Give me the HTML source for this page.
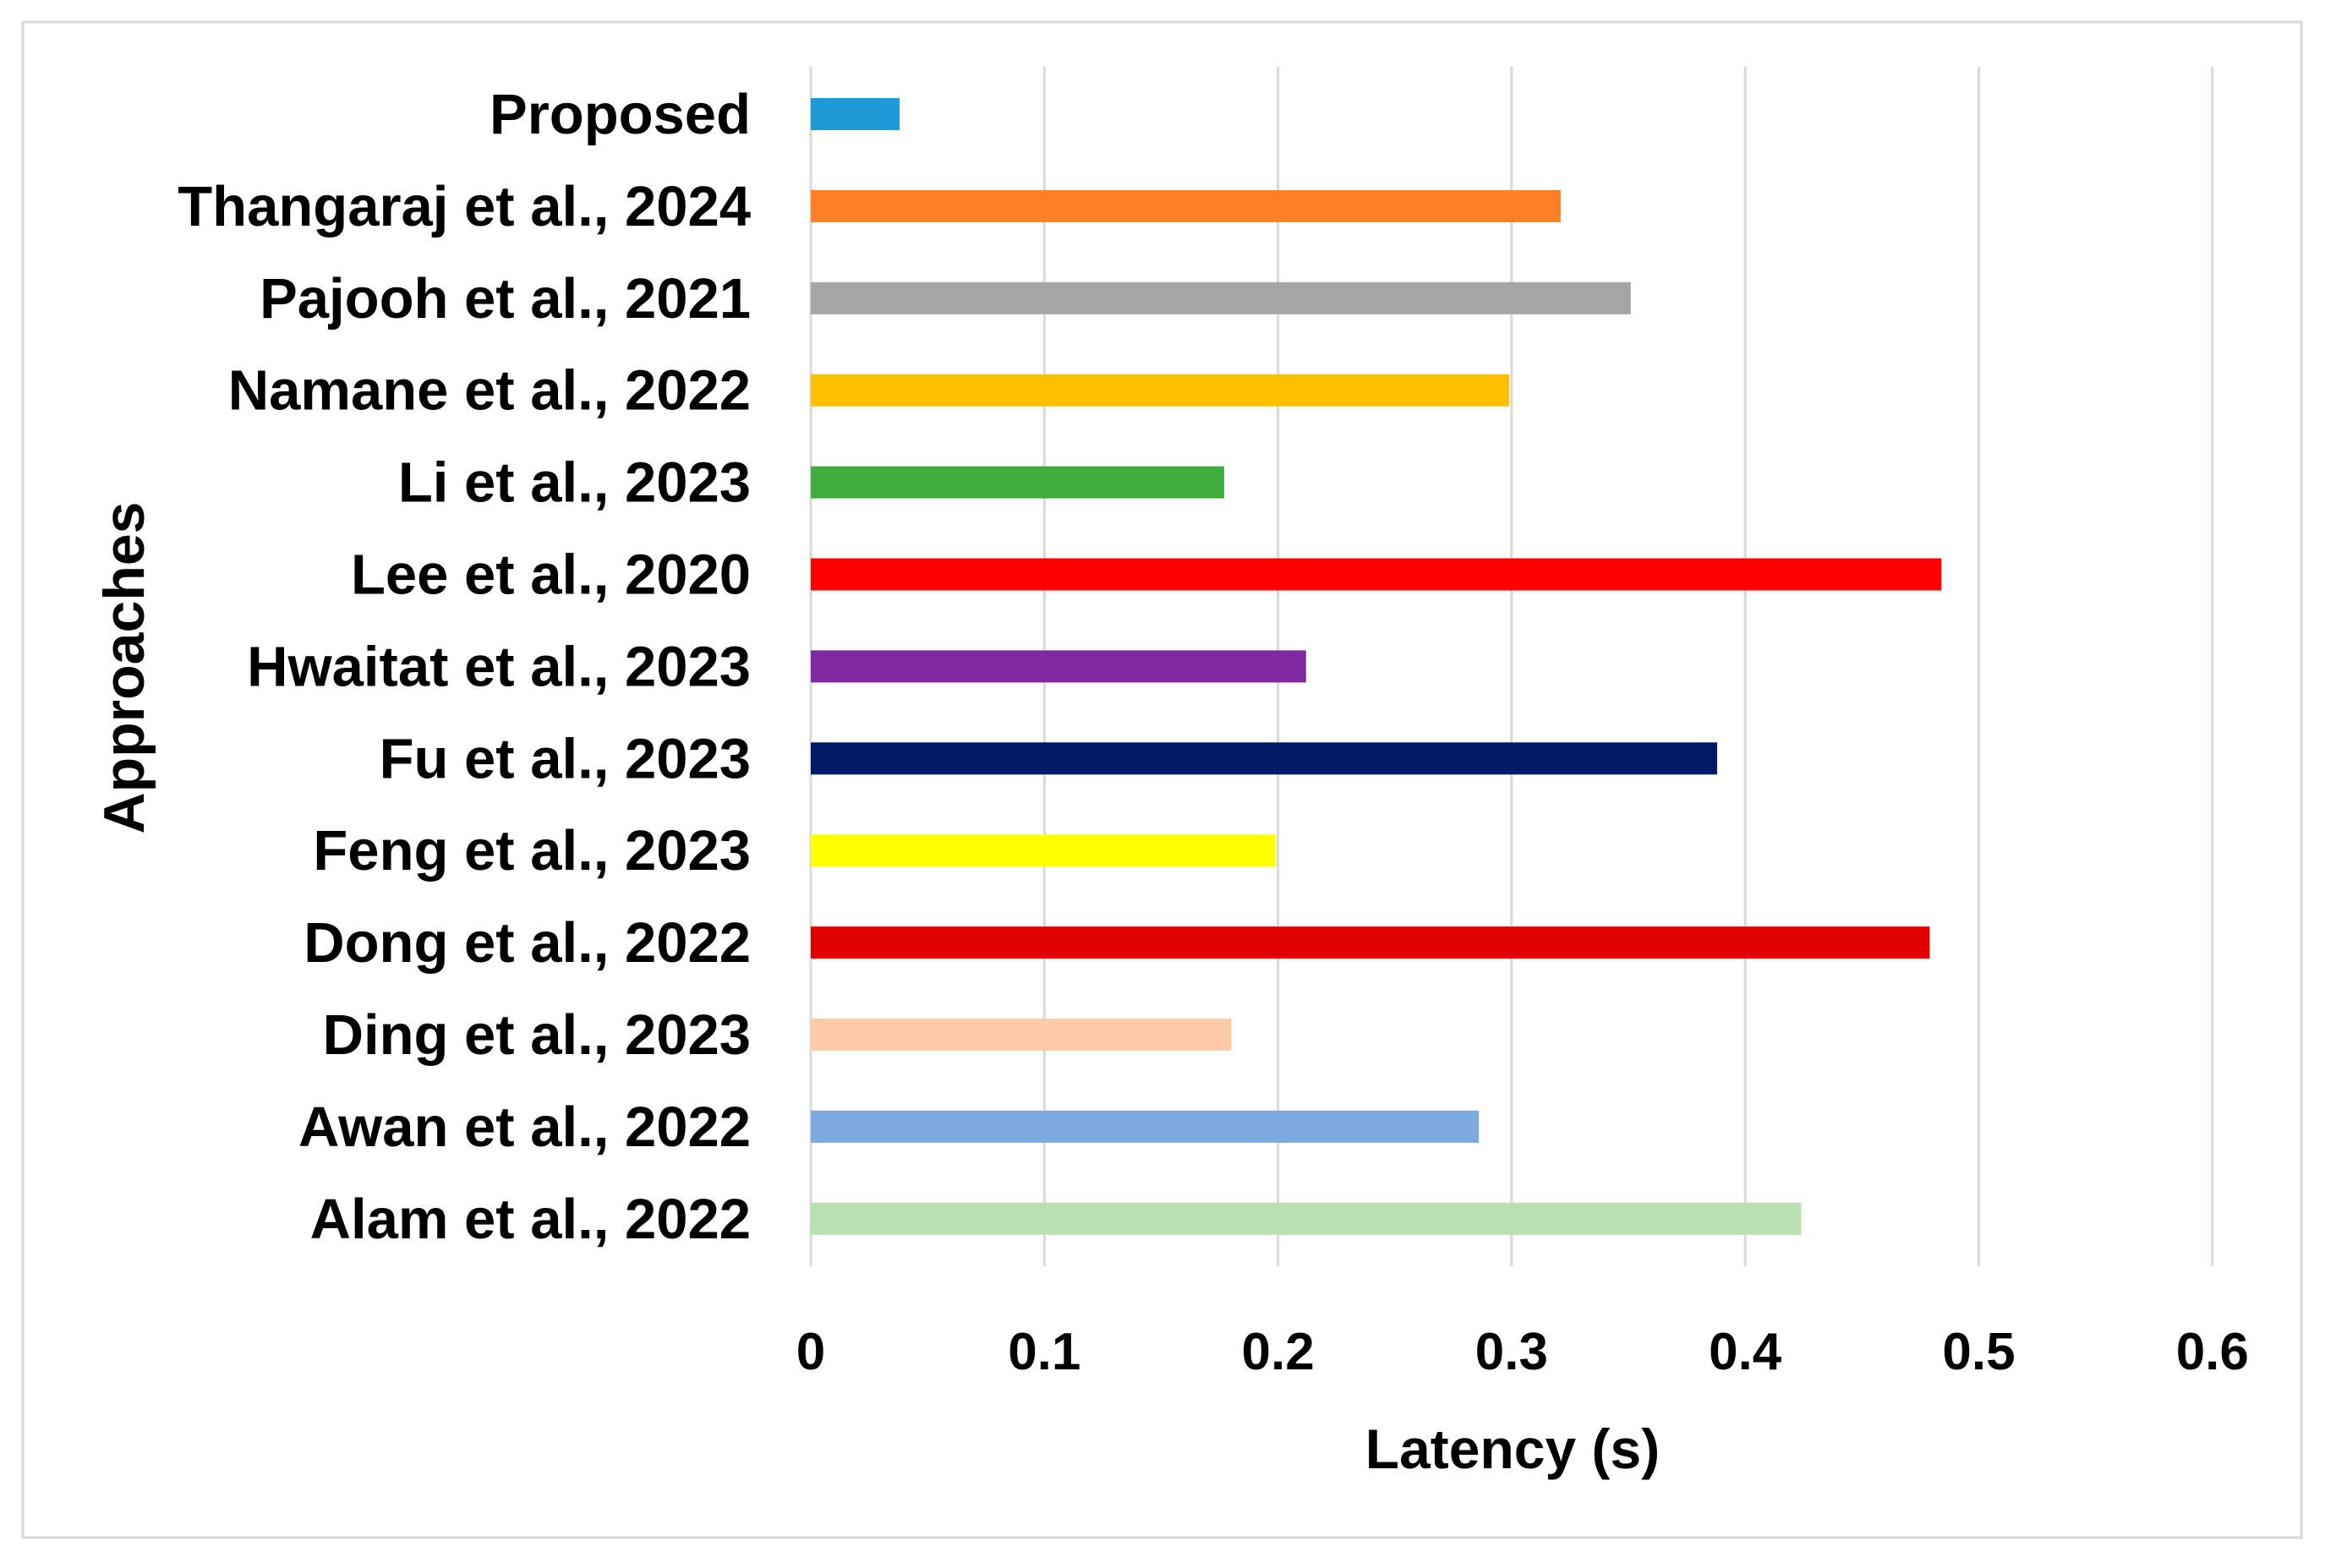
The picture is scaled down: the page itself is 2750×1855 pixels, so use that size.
<!DOCTYPE html>
<html><head><meta charset="utf-8"><style>
html,body{margin:0;padding:0;background:#fff;}
svg{display:block;font-family:"Liberation Sans",sans-serif;font-weight:bold;}
</style></head><body>
<svg id="chart" width="2750" height="1855" viewBox="0 0 2750 1855" xmlns="http://www.w3.org/2000/svg">
<rect x="27" y="26" width="2695" height="1793" fill="#fff" stroke="#d9d9d9" stroke-width="3"/>
<g id="grid"></g>
<g id="bars"></g>
<g id="ylabels"></g>
<g id="xticks"></g>
<text x="1789" y="1737" font-size="66" text-anchor="middle">Latency (s)</text>
<text x="0" y="0" font-size="68" text-anchor="middle" transform="translate(170,790) rotate(-90)">Approaches</text>
</svg>
<script>
const categories = ["Proposed","Thangaraj et al., 2024","Pajooh et al., 2021","Namane et al., 2022","Li et al., 2023","Lee et al., 2020","Hwaitat et al., 2023","Fu et al., 2023","Feng et al., 2023","Dong et al., 2022","Ding et al., 2023","Awan et al., 2022","Alam et al., 2022"];
const values = [0.038,0.321,0.351,0.299,0.177,0.484,0.212,0.388,0.199,0.479,0.180,0.286,0.424];
const colors = ["#1f9ad6","#ff7f27","#a5a5a5","#ffc000","#3fae3f","#ff0000","#7f2aa0","#001a66","#ffff00","#e00000","#ffcaa8","#7faadf","#b9e0b1"];
const tickValues = [0,0.1,0.2,0.3,0.4,0.5,0.6];
const tickLabels = ["0","0.1","0.2","0.3","0.4","0.5","0.6"];

const NS="http://www.w3.org/2000/svg";
const x0=959, pxPer=2763, firstY=135, step=108.9, barH=38;
function xScale(v){return x0+v*pxPer;}
function yScale(i){return firstY+i*step;}
function mk(tag,parent){const e=document.createElementNS(NS,tag);document.getElementById(parent).appendChild(e);return e;}

tickValues.forEach((t,i)=>{
  const l=mk('line','grid');
  
  
  l.setAttribute('x1',xScale(t));l.setAttribute('x2',xScale(t));
  l.setAttribute('y1',79);l.setAttribute('y2',1498);
  l.setAttribute('stroke','#d9d9d9');l.setAttribute('stroke-width','3');
  const tx=mk('text','xticks');
  
  
  tx.setAttribute('x',xScale(t));tx.setAttribute('y',1620);
  tx.setAttribute('font-size','62');tx.setAttribute('text-anchor','middle');
  tx.textContent=tickLabels[i];
});

categories.forEach((c,i)=>{
  const r=mk('rect','bars');
  
  
  r.setAttribute('x',xScale(0));r.setAttribute('y',yScale(i)-barH/2);
  r.setAttribute('width',xScale(values[i])-xScale(0));r.setAttribute('height',barH);
  r.setAttribute('fill',colors[i]);
  const t=mk('text','ylabels');
  
  
  t.setAttribute('x',888);t.setAttribute('y',yScale(i)+23);
  t.setAttribute('font-size','67');t.setAttribute('text-anchor','end');
  t.textContent=c;
});
</script>
</body></html>
